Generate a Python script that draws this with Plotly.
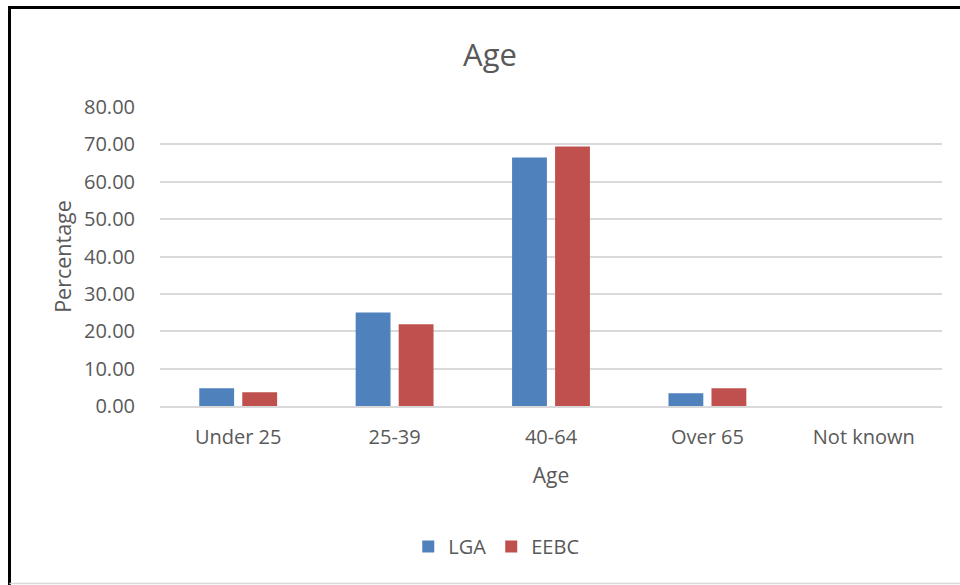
import plotly.graph_objects as go

categories = ["Under 25", "25-39", "40-64", "Over 65", "Not known"]
lga = [4.75, 25.0, 66.5, 3.4, 0.0]
eebc = [3.7, 21.9, 69.4, 4.75, 0.0]
y_ticks = [0, 10, 20, 30, 40, 50, 60, 70, 80]
y_tick_labels = ["0.00", "10.00", "20.00", "30.00", "40.00", "50.00", "60.00", "70.00", "80.00"]

FONT = "Open Sans"
TEXT = "#595959"
GRID = "#d9d9d9"

fig = go.Figure()
fig.add_trace(go.Bar(name="LGA", x=categories, y=lga,
                     marker=dict(color="#4F81BD", line=dict(width=0))))
fig.add_trace(go.Bar(name="EEBC", x=categories, y=eebc,
                     marker=dict(color="#C0504D", line=dict(width=0))))

fig.update_layout(
    width=960, height=585,
    margin=dict(l=160, r=18, t=107, b=179),
    paper_bgcolor="white", plot_bgcolor="white",
    barmode="group", bargap=0.45, bargroupgap=0.19,
    font=dict(family=FONT, color=TEXT, size=20),
    title=dict(text="Age", xref="paper", x=(490 - 160) / 782, xanchor="center",
               y=1 - 55 / 585, yanchor="middle",
               font=dict(size=31, color=TEXT, family=FONT)),
    showlegend=True,
    legend=dict(orientation="h", x=0.43, xanchor="center", y=-0.47, yanchor="middle",
                font=dict(size=20, color=TEXT), itemwidth=30, traceorder="normal"),
    xaxis=dict(
        showgrid=False, showline=True, linecolor=GRID, linewidth=1.5,
        ticks="outside", ticklen=0, ticklabelstandoff=12,
        tickfont=dict(size=20, color=TEXT),
        title=dict(text="Age", font=dict(size=21, color=TEXT), standoff=20),
    ),
    yaxis=dict(
        range=[0, 80], tickvals=y_ticks, ticktext=y_tick_labels,
        showgrid=True, gridcolor=GRID, gridwidth=1.5, zeroline=False,
        showline=False, ticks="outside", ticklen=0, ticklabelstandoff=20,
        tickfont=dict(size=20, color=TEXT),
        title=dict(text="Percentage", font=dict(size=21.5, color=TEXT), standoff=6),
    ),
)

# frame drawn around the whole chart
def px_x(px):
    return (px - 160) / 782

def px_y(py):
    return (406 - py) / 299

fig.add_shape(type="line", xref="paper", yref="paper",
              x0=px_x(9.5), x1=px_x(965), y0=px_y(7.5), y1=px_y(7.5),
              line=dict(color="black", width=3))
fig.add_shape(type="line", xref="paper", yref="paper",
              x0=px_x(9.5), x1=px_x(9.5), y0=px_y(6), y1=px_y(590),
              line=dict(color="black", width=3))
fig.add_shape(type="line", xref="paper", yref="paper",
              x0=px_x(9.5), x1=px_x(965), y0=px_y(583.5), y1=px_y(583.5),
              line=dict(color="#d9d9d9", width=1.5))

fig.write_html("out.html")
